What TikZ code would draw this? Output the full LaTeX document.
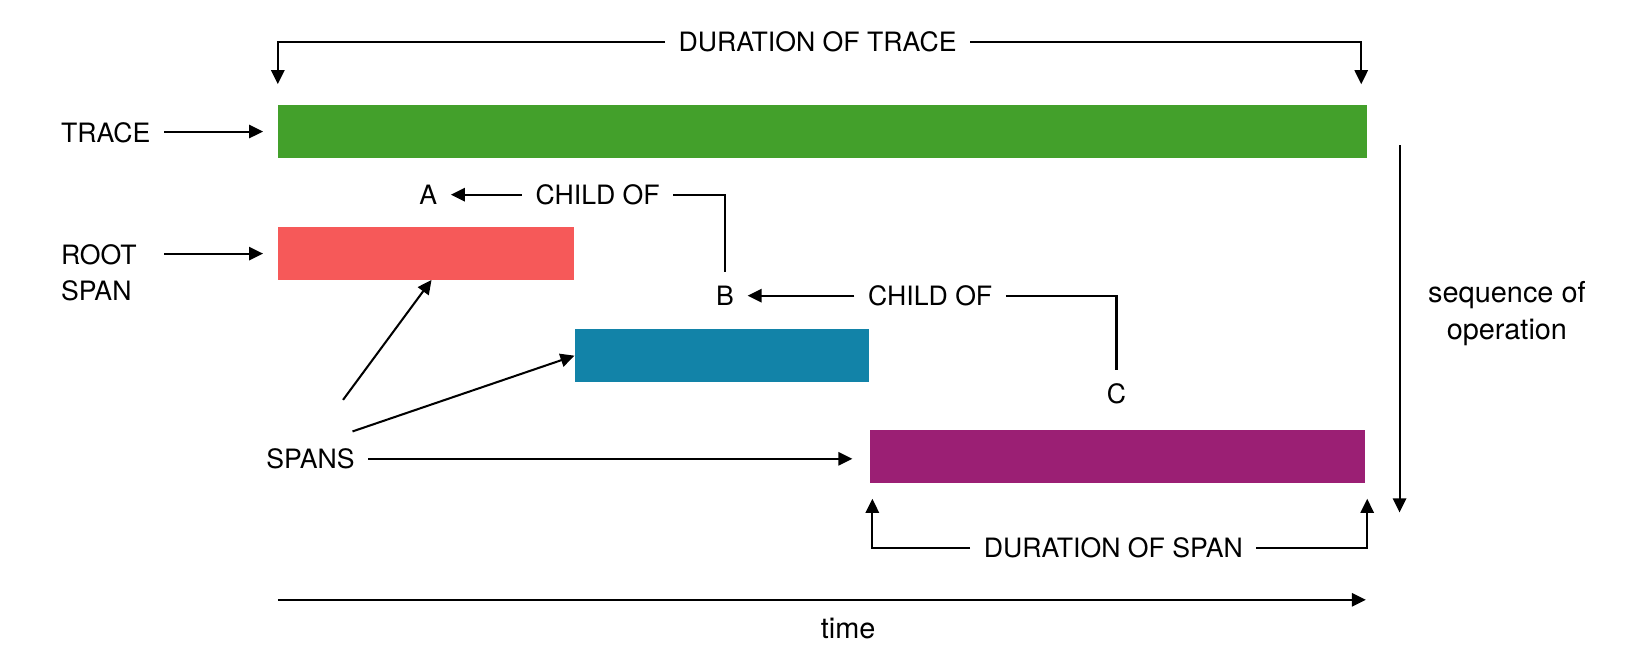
\documentclass[tikz,border=0pt]{standalone}
\usepackage{fontspec}
\setmainfont{TeX Gyre Heros}
\usetikzlibrary{arrows.meta}
\definecolor{tracegreen}{RGB}{67,160,43}
\definecolor{rootred}{RGB}{246,89,89}
\definecolor{spanblue}{RGB}{18,131,168}
\definecolor{spanpurple}{RGB}{155,31,116}

\begin{document}
\begin{tikzpicture}[%
      x=0.01cm, y=-0.01cm,
      bar/.style={rectangle, inner sep=0pt, outer sep=0pt, anchor=north west, minimum height=0.5cm},
      lbl/.style={inner sep=3.5pt, font=\fontsize{7.2}{9.6}\selectfont},
      small/.style={inner sep=3.5pt, font=\fontsize{7.8}{10.2}\selectfont},
      arr/.style={line width=0.55pt, -{Triangle[length=3.8pt,width=3.6pt]}},
      ln/.style={line width=0.55pt},
      ]
      \useasboundingbox (0,0) rectangle (1568,628);

      % bars
      \node [bar, fill=tracegreen, minimum width=10.34cm] (trace) at (264,100) {};
      \node [bar, fill=rootred, minimum width=2.81cm] (root) at (264,216) {};
      \node [bar, fill=spanblue, minimum width=2.80cm] (spanb) at (546,313) {};
      \node [bar, fill=spanpurple, minimum width=4.70cm] (spanc) at (827,409) {};

      % labels
      \node [lbl] (durtrace) at (777,40) {DURATION OF TRACE};
      \node [lbl, anchor=west] (tracelbl) at (45,126) {TRACE};
      \node [lbl, anchor=west, align=left] (rootlbl) at (45,259) {ROOT\\SPAN};
      \node [lbl] (spanslbl) at (295,436) {SPANS};
      \node [lbl] (labA) at (407,185) {A};
      \node [lbl] (childa) at (568,185) {CHILD OF};
      \node [lbl] (labB) at (689,281) {B};
      \node [lbl] (childb) at (884,281) {CHILD OF};
      \node [lbl] (labC) at (1061,374) {C};
      \node [lbl] (durspan) at (1058,521) {DURATION OF SPAN};
      \node [small, align=center] (seqlbl) at (1432,298) {sequence of\\operation};
      \node [small] (timelbl) at (806,597) {time};

      \coordinate (seqtop) at (1330,138);
      \coordinate (seqend) at (1330,487);
      \coordinate (timeorg) at (264,570);
      \coordinate (timeend) at (1298,570);

      % durations
      \draw [arr] (durtrace.west) -| ([yshift=0.2cm]trace.north west);
      \draw [arr] (durtrace.east) -| ([xshift=-0.05cm,yshift=0.2cm]trace.north east);
      \draw [arr] (durspan.west) -| ([xshift=0.02cm,yshift=-0.15cm]spanc.south west);
      \draw [arr] (durspan.east) -| ([xshift=0.02cm,yshift=-0.15cm]spanc.south east);

      % pointers
      \draw [arr, shorten >=0.14cm] (trace.west -| tracelbl.east) -- (trace.west);
      \draw [arr, shorten >=0.14cm] (root.west -| tracelbl.east) -- (root.west);
      \draw [arr, shorten >=0.17cm] (spanslbl.east) -- (spanslbl.east -| spanc.west);
      \draw [arr] ([shift={(31,-56)}]spanslbl.center) -- ([xshift=0.055cm]root.south);
      \draw [arr] ([shift={(40,-26)}]spanslbl.center) -- (spanb.west);

      % child of
      \draw [arr] (childa.west) -- (labA.east);
      \draw [ln] (childa.east) -| (labB.north);
      \draw [arr] (childb.west) -- (labB.east);
      \draw [ln] (childb.east) -| (labC.north);

      % axes
      \draw [arr] (seqtop) -- (seqend);
      \draw [arr] (timeorg) -- (timeend);
\end{tikzpicture}
\end{document}
